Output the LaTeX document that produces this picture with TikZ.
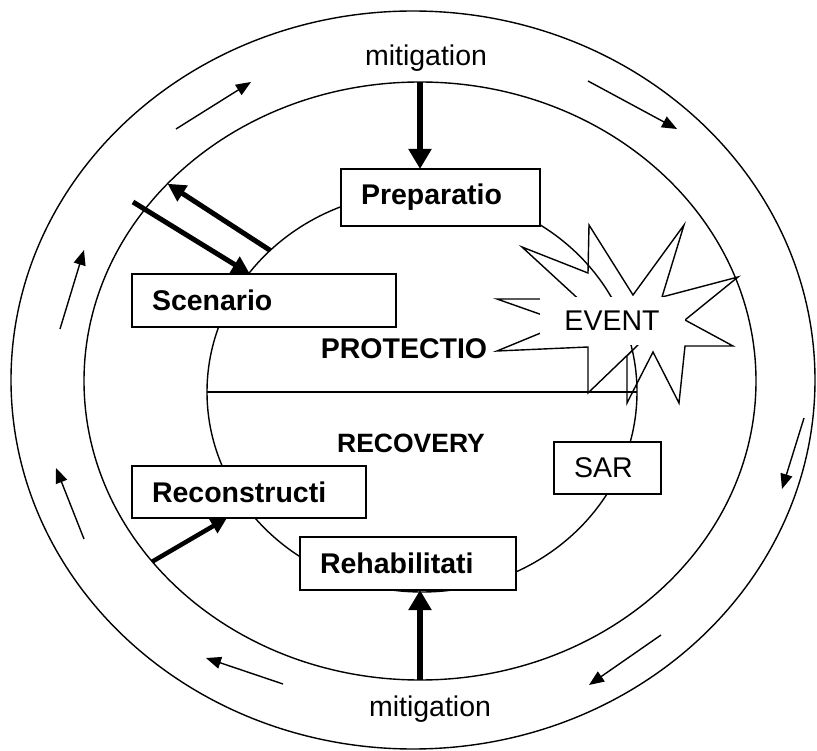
\documentclass[tikz,border=0pt]{standalone}
\usepackage{fontspec}
\setmainfont{Liberation Sans}
\usetikzlibrary{shapes.geometric}
\usetikzlibrary{arrows.meta}
\usetikzlibrary{positioning}

\newcommand{\labelsize}{\fontsize{28.5}{34}\selectfont}

\tikzset{
  ring/.style={ellipse, draw, line width=1.4pt, inner sep=0pt, outer sep=0pt},
  phase/.style={draw, fill=white, line width=1.4pt, text width=#1, align=left,
    inner xsep=20pt, inner ysep=0pt, outer sep=0pt, anchor=west,
    minimum height=53pt, font=\labelsize\bfseries},
  heavy/.style={line width=6pt, -{Triangle[width=22pt,length=20pt]}},
  pointer/.style={line width=5pt, -{Triangle[width=18pt,length=18pt]}},
  flow/.style={line width=1.4pt, -{Triangle[width=12pt,length=15pt]}},
}

\begin{document}
\begin{tikzpicture}[x=1pt, y=-1pt, font=\labelsize]
\useasboundingbox (0,0) rectangle (817,751);

% rings
\node[ring, minimum width=804pt, minimum height=738pt] (outer) at (413,380) {};
\node[ring, minimum width=672pt, minimum height=598pt] (mid) at (420,381) {};
\node[ring, minimum width=430pt, minimum height=400pt] (inner) at (422,392) {};
\draw[line width=1.4pt] (inner.west) -- (inner.east);

% event
\draw[line width=1.4pt] (497,351) -- (565,323) -- (497,299) -- (560,299) -- (585,305)
  -- (522,247) -- (588,273) -- (589,225) -- (633,295) -- (684,225) -- (662,297)
  -- (738,277) -- (685,320) -- (733,346) -- (685,346) -- (679,403) -- (653,352)
  -- (627,403) -- (627,356) -- (640,343) -- (588,393) -- (588,347) -- cycle;
\node[fill=white, inner sep=0pt, minimum width=145pt, minimum height=48pt] (event) at (612,321) {EVENT};

% phases
\node[phase=159pt, minimum height=57pt] (prep) at (341,197.5) {Preparatio};
\node[phase=224pt] (scen) at (132,300.5) {Scenario};
\node[phase=194pt, minimum height=52pt] (recon) at (132,492) {Reconstructi};
\node[phase=176pt] (rehab) at (300,563.5) {Rehabilitati};
\node[phase=67pt, minimum height=52pt, font=\labelsize] (sar) at (554,468) {SAR};

% labels
\node (mit-t) at (426,58) {mitigation};
\node (mit-b) at (430,709) {mitigation};
\node[font=\labelsize\bfseries] (prot) at (404,349) {PROTECTIO};
\node[font=\fontsize{26.5}{32}\selectfont\bfseries] (rec) at (411,443) {RECOVERY};

% mitigation arrows
\draw[heavy] (mid.north) -- (mid.north |- prep.north);
\draw[heavy] (mid.south) -- (mid.south |- rehab.south);

% scenario
\coordinate (scen-in) at (133,202);
\draw[pointer] (scen-in) -- ([xshift=-14pt]scen.north);
\draw[pointer] (inner.137) -- (mid.142);

% reconstruction
\draw[pointer, line width=4.5pt, -{Triangle[width=16pt,length=16pt]}] (mid.214) -- ([xshift=-22pt]recon.south);

% cycle
\foreach \n/\ax/\ay/\bx/\by in {nw/176/129/251/82, ne/588/81/677/129, e/804/418/782/489,
    se/661/635/589/685, s/283/684/206/658, sw/84/539/56/468, w/60/329/84/250}{
  \coordinate (\n-a) at (\ax,\ay);
  \coordinate (\n-b) at (\bx,\by);
  \draw[flow] (\n-a) -- (\n-b);
}
\end{tikzpicture}
\end{document}
